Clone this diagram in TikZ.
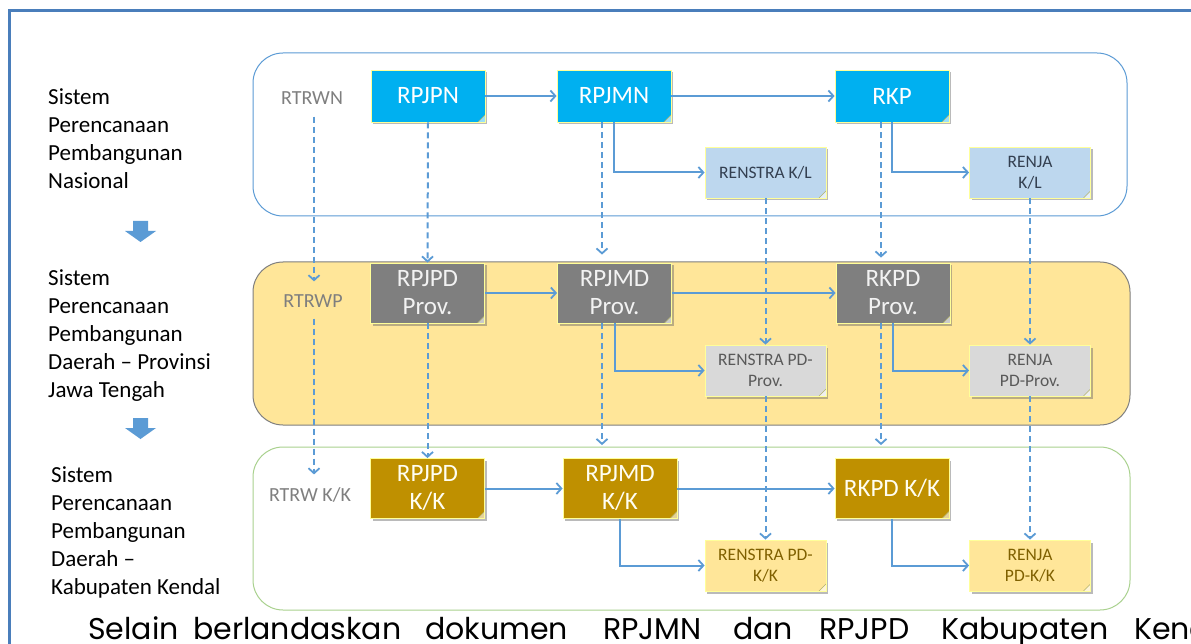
\documentclass[tikz,border=0pt]{standalone}
\usepackage{fontspec}
\setmainfont{Carlito}
\newfontfamily\popfont{Poppins}
\usetikzlibrary{arrows.meta,shadows,calc}
\definecolor{frameblue}{HTML}{4A7EBB}
\definecolor{lineblue}{HTML}{5B9BD5}
\definecolor{cyanbox}{HTML}{00B0F0}
\definecolor{lightblue}{HTML}{BDD7EE}
\definecolor{graybox}{HTML}{7F7F7F}
\definecolor{lightgraybox}{HTML}{D9D9D9}
\definecolor{goldbox}{HTML}{BF9000}
\definecolor{lightyellow}{HTML}{FFE699}
\definecolor{docedge}{HTML}{FFFF99}
\definecolor{panelgreen}{HTML}{A9D18E}
\definecolor{panelgray}{HTML}{7F7F7F}
\definecolor{txtgray}{HTML}{7F7F7F}
\definecolor{txtdarkblue}{HTML}{333F50}
\definecolor{txtbrown}{HTML}{7F6000}
\definecolor{txtdgray}{HTML}{595959}
\tikzset{
  doc/.style={draw=docedge, line width=0.8pt, inner sep=0pt, align=center,
    drop shadow={shadow xshift=2pt, shadow yshift=-2.5pt, opacity=0.45, fill=black!60},
    path picture={\fill[white,opacity=0.6] ([xshift=-7pt]path picture bounding box.south east) -- ([yshift=7pt]path picture bounding box.south east) -- (path picture bounding box.south east) -- cycle;
      \draw[docedge!70!black, line width=0.5pt] ([xshift=-7pt]path picture bounding box.south east) -- ([yshift=7pt]path picture bounding box.south east);}},
  bigdoc/.style={doc, minimum width=114pt, minimum height=52pt, font=\fontsize{25}{28}\selectfont},
  tallbigdoc/.style={bigdoc, minimum height=60pt},
  smalldoc/.style={doc, minimum width=121pt, minimum height=51pt, font=\fontsize{17.5}{21}\selectfont},
  panel/.style={rounded corners=30pt, line width=1pt},
  flow/.style={draw=lineblue, line width=2pt, -{Straight Barb[length=5pt,width=11pt,line width=1.8pt]}},
  dflow/.style={flow, dash pattern=on 6pt off 4pt},
  lbl/.style={anchor=north west, align=left, inner sep=0pt, font=\fontsize{23}{28}\selectfont},
  rtr/.style={inner sep=2pt, text=txtgray, font=\fontsize{20}{22}\selectfont},
}
\begin{document}
\begin{tikzpicture}[x=1pt,y=-1pt]
\useasboundingbox (0,0) rectangle (1191,644);
\clip (0,0) rectangle (1191,644);
\fill[white] (0,0) rectangle (1191,644);
% frame
\draw[frameblue, line width=3pt] (9.5,1000) -- (9.5,10.5) -- (1300,10.5);
% panels
\draw[panel, draw=lineblue] (253,53) rectangle (1127,216);
\draw[panel, draw=panelgray, fill=lightyellow] (253,262) rectangle (1130,425);
\draw[panel, draw=panelgreen] (253,447) rectangle (1130,610);
% left labels
\node[lbl] (l1) at (48,88) {Sistem\\Perencanaan\\Pembangunan\\Nasional};
\node[lbl] (l2) at (48,269) {Sistem\\Perencanaan\\Pembangunan\\Daerah -- Provinsi\\Jawa Tengah};
\node[lbl] (l3) at (51,466) {Sistem\\Perencanaan\\Pembangunan\\Daerah --\\Kabupaten Kendal};
% block arrows
\fill[lineblue] (133,221) -- (148,221) -- (148,231) -- (156,231) -- (140.5,242) -- (125,231) -- (133,231) -- cycle;
\fill[lineblue] (133,418) -- (148,418) -- (148,428) -- (156,428) -- (140.5,439) -- (125,428) -- (133,428) -- cycle;
% RTRW labels
\node[rtr] (rtrwn) at (312,98) {RTRWN};
\node[rtr] (rtrwp) at (313,301) {RTRWP};
\node[rtr] (rtrwkk) at (310,495) {RTRW K/K};
% row 1
\node[bigdoc, fill=cyanbox, text=white] (rpjpn) at (428,96) {RPJPN};
\node[bigdoc, fill=cyanbox, text=white] (rpjmn) at (614,96) {RPJMN};
\node[bigdoc, fill=cyanbox, text=white] (rkp) at (892,96) {RKP};
\node[smalldoc, fill=lightblue, text=txtdarkblue] (renstrakl) at (765.5,172.5) {RENSTRA K/L};
\node[smalldoc, fill=lightblue, text=txtdarkblue] (renjakl) at (1030,172.5) {RENJA\\K/L};
% row 2
\node[tallbigdoc, fill=graybox, text=white!95!black] (rpjpdp) at (427.5,293) {RPJPD\\Prov.};
\node[tallbigdoc, fill=graybox, text=white!95!black] (rpjmdp) at (614.5,293) {RPJMD\\Prov.};
\node[tallbigdoc, fill=graybox, text=white!95!black] (rkpdp) at (893,293) {RKPD\\Prov.};
\node[smalldoc, fill=lightgraybox, text=txtdgray] (renstrap) at (765.5,370.5) {RENSTRA PD-\\Prov.};
\node[smalldoc, fill=lightgraybox, text=txtdgray] (renjap) at (1030,370.5) {RENJA\\PD-Prov.};
% row 3
\node[tallbigdoc, fill=goldbox, text=white!95!yellow] (rpjpdkk) at (427.5,488.5) {RPJPD\\K/K};
\node[tallbigdoc, fill=goldbox, text=white!95!yellow] (rpjmdkk) at (620,488.5) {RPJMD\\K/K};
\node[tallbigdoc, fill=goldbox, text=white!95!yellow] (rkpdkk) at (892,488.5) {RKPD K/K};
\node[smalldoc, fill=lightyellow, text=txtbrown] (renstrakk) at (765.5,565.5) {RENSTRA PD-\\K/K};
\node[smalldoc, fill=lightyellow, text=txtbrown] (renjakk) at (1030,565.5) {RENJA\\PD-K/K};
% solid flows
\draw[flow] (rpjpn.east) -- (rpjmn.west);
\draw[flow] (rpjmn.east) -- (rkp.west);
\draw[flow] (rpjmn.south) |- (renstrakl.west);
\draw[flow] (rkp.south) |- (renjakl.west);
\draw[flow] (rpjpdp.east) -- (rpjmdp.west);
\draw[flow] (rpjmdp.east) -- (rkpdp.west);
\draw[flow] (rpjmdp.south) |- (renstrap.west);
\draw[flow] (rkpdp.south) |- (renjap.west);
\draw[flow] (rpjpdkk.east) -- (rpjmdkk.west);
\draw[flow] (rpjmdkk.east) -- (rkpdkk.west);
\draw[flow] (rpjmdkk.south) |- (renstrakk.west);
\draw[flow] (rkpdkk.south) |- (renjakk.west);
% dashed flows
\draw[dflow, shorten <=10pt, shorten >=11pt] ([xshift=2pt]rtrwn.south) -- ([xshift=2pt]rtrwn.south |- rtrwp.north);
\draw[dflow, shorten <=9pt, shorten >=11pt] ([xshift=1pt]rtrwp.south) -- ([xshift=1pt]rtrwp.south |- rtrwkk.north);
\draw[dflow] (rpjpn.south) -- (rpjpdp.north);
\draw[dflow] (rpjpdp.south) -- (rpjpdkk.north);
\draw[dflow, shorten >=8pt] ([xshift=-12pt]rpjmn.south) -- ([xshift=-12pt]rpjmn.south |- rpjmdp.north);
\draw[dflow, shorten >=13pt] ([xshift=-12.5pt]rpjmdp.south) -- ([xshift=-12.5pt]rpjmdp.south |- rpjmdkk.north);
\draw[dflow] (renstrakl.south) -- (renstrap.north);
\draw[dflow] (renstrap.south) -- (renstrakk.north);
\draw[dflow, shorten >=5pt] ([xshift=-11pt]rkp.south) -- ([xshift=-11pt]rkp.south |- rkpdp.north);
\draw[dflow, shorten >=13pt] ([xshift=-12pt]rkpdp.south) -- ([xshift=-12pt]rkpdp.south |- rkpdkk.north);
\draw[dflow] (renjakl.south) -- (renjap.north);
\draw[dflow] (renjap.south) -- (renjakk.north);
% bottom text
\node[anchor=base west, inner sep=0pt, font=\popfont\fontsize{30}{36}\selectfont] (bottomtext) at (88,639) {\makebox[105pt][l]{Selain}\makebox[232pt][l]{berlandaskan}\makebox[178pt][l]{dokumen}\makebox[130pt][l]{RPJMN}\makebox[86pt][l]{dan}\makebox[122pt][l]{RPJPD}\makebox[193pt][l]{Kabupaten}Kendal};
\end{tikzpicture}
\end{document}
